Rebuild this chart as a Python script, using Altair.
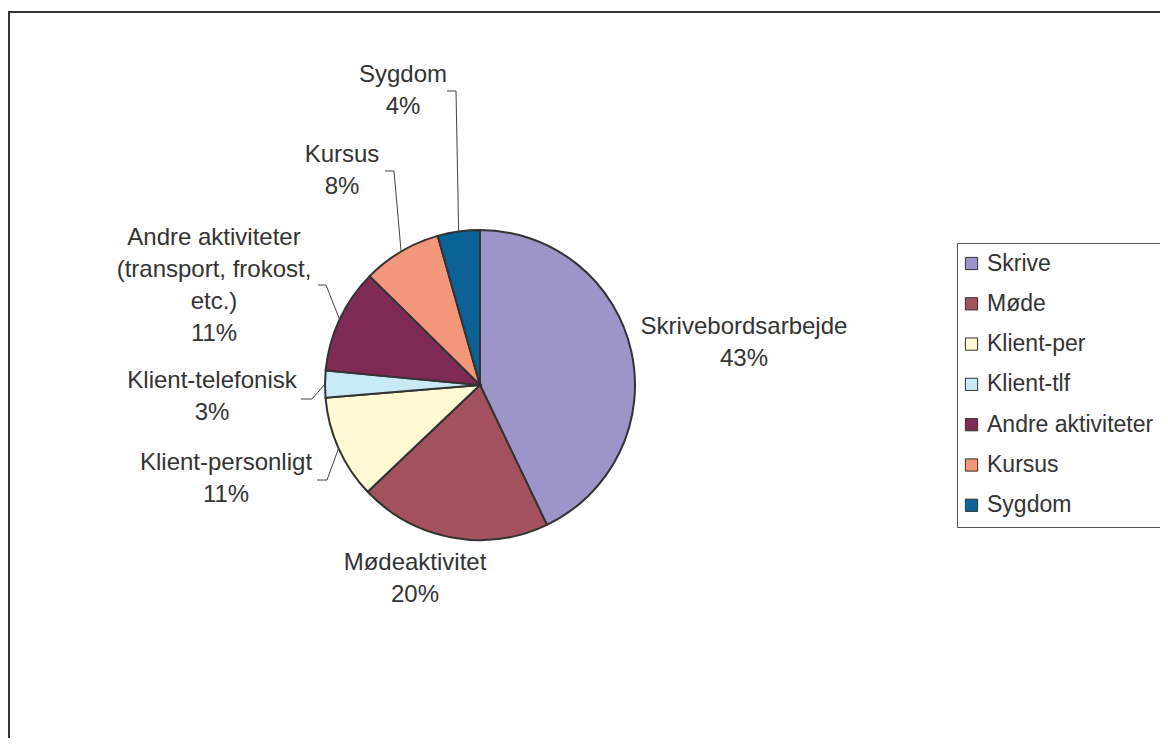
import math
import altair as alt
import pandas as pd

# ---------------- data ----------------
categories = [
    "Skrivebordsarbejde",
    "Mødeaktivitet",
    "Klient-personligt",
    "Klient-telefonisk",
    "Andre aktiviteter\n(transport, frokost,\netc.)",
    "Kursus",
    "Sygdom",
]
legend_names = ["Skrive", "Møde", "Klient-per", "Klient-tlf",
                "Andre aktiviteter", "Kursus", "Sygdom"]
shares = [42.9, 20.0, 10.8, 2.8, 10.9, 8.2, 4.4]
colors = ["#9D95C9", "#A3505F", "#FFF9D4", "#C8EAF7", "#7E2A54", "#F3977B", "#0A6297"]

# ---------------- layout (pixels in chart coordinates) ----------------
W, H = 1152, 730
CX, CY, R = 472, 377, 155
# position of the first text line of each label (centre)
label_pos = [(736, 319), (407, 555), (218, 455), (204, 373),
             (206, 230), (334, 147), (395, 67)]
# leader line start + elbow (None: no leader)
leader_pts = [None, None, ((309, 472), (319, 472)), ((293, 391), (304, 391)),
              ((310, 277), (318, 277)), ((377, 163), (386, 163)),
              ((439, 83), (448, 83))]
FONT = "Liberation Sans"
TXT = "#333333"

df = pd.DataFrame({
    "cat": categories,
    "short": legend_names,
    "share": shares,
    "idx": list(range(len(shares))),
})
df["label"] = [f"{c}\n{round(s)}%" for c, s in zip(categories, shares)]
df["lx"] = [p[0] for p in label_pos]
df["ly"] = [p[1] for p in label_pos]

# leader lines: from label elbow to pie edge at the slice's mid-angle
total = sum(shares)
rows = []
cum = 0.0
for i, s in enumerate(shares):
    mid = (cum + s / 2) / total * 2 * math.pi
    cum += s
    if leader_pts[i] is None:
        continue
    ex = CX + R * math.sin(mid)
    ey = CY - R * math.cos(mid)
    (sx, sy), (bx, by) = leader_pts[i]
    for k, (x, y) in enumerate([(sx, sy), (bx, by), (ex, ey)]):
        rows.append({"name": legend_names[i], "seq": k, "x": x, "y": y})
leaders = pd.DataFrame(rows)

pie = alt.Chart(df).mark_arc(outerRadius=R, stroke="#333333", strokeWidth=2).encode(
    theta=alt.Theta("share:Q", stack=True),
    order=alt.Order("idx:Q", sort="ascending"),
    color=alt.Color(
        "short:N",
        scale=alt.Scale(domain=legend_names, range=colors),
        legend=alt.Legend(
            title=None, orient="none", legendX=949, legendY=235,
            symbolType="square", symbolSize=150, symbolStrokeColor="#333333",
            symbolStrokeWidth=1, symbolOpacity=1, symbolOffset=-6,
            labelFont=FONT, labelFontSize=23, labelColor=TXT,
            rowPadding=16.3, padding=9, strokeColor="#555555", fillColor="white",
            labelLimit=400, labelOffset=4,
        ),
    ),
    x=alt.value(CX),
    y=alt.value(CY),
)

labels = alt.Chart(df).mark_text(
    font=FONT, fontSize=24, color=TXT, lineBreak="\n", lineHeight=32,
    align="center", baseline="middle",
).encode(
    x=alt.X("lx:Q", scale=None, axis=None),
    y=alt.Y("ly:Q", scale=None, axis=None),
    text="label:N",
)

lead = alt.Chart(leaders).mark_line(color="#444444", strokeWidth=1).encode(
    x=alt.X("x:Q", scale=None, axis=None),
    y=alt.Y("y:Q", scale=None, axis=None),
    detail="name:N",
    order="seq:Q",
)

one = alt.Data(values=[{"k": 0}])
frame_left = alt.Chart(one).mark_rule(color="#333333", strokeWidth=2).encode(
    x=alt.value(1), y=alt.value(3), y2=alt.value(H))
frame_top = alt.Chart(one).mark_rule(color="#333333", strokeWidth=2).encode(
    x=alt.value(0), x2=alt.value(W), y=alt.value(4))

chart = alt.layer(frame_left, frame_top, pie, lead, labels).properties(
    width=W, height=H, padding=0,
    autosize=alt.AutoSizeParams(type="none"),
    background="white",
).configure_view(stroke=None)

chart.save("out.html", embed_options={"renderer": "svg", "actions": False})
